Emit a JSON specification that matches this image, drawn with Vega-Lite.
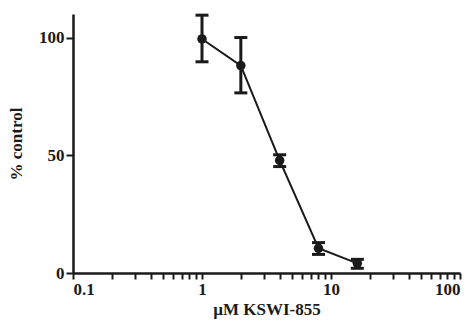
{
  "$schema": "https://vega.github.io/schema/vega-lite/v6.json",
  "width": 387,
  "height": 259,
  "autosize": {"type": "none"},
  "padding": {"left": 73, "top": 14, "right": 16, "bottom": 54},
  "background": "white",
  "config": {"view": {"stroke": null}},
  "data": {"values": [
    {"conc": 1, "pct": 99.4, "lo": 89.7, "hi": 109.5},
    {"conc": 2, "pct": 88.1, "lo": 76.5, "hi": 100.0},
    {"conc": 4, "pct": 47.8, "lo": 45.2, "hi": 50.2},
    {"conc": 8, "pct": 10.5, "lo": 7.9, "hi": 12.9},
    {"conc": 16, "pct": 4.1, "lo": 2.0, "hi": 5.8}
  ]},
  "encoding": {
    "x": {
      "field": "conc", "type": "quantitative",
      "scale": {"type": "log", "domain": [0.1, 100], "nice": false},
      "axis": {
        "title": "µM KSWI-855",
        "grid": true, "gridOpacity": 0,
        "ticks": true,
        "domainColor": "#1a1a1a", "domainWidth": 2.5,
        "labelFont": "Liberation Serif", "labelFontWeight": "bold", "labelFontSize": 17, "labelColor": "#1a1a1a",
        "titleFont": "Liberation Serif", "titleFontWeight": "bold", "titleFontSize": 17, "titleColor": "#1a1a1a",
        "titlePadding": 4,
        "values": [0.1,0.2,0.3,0.4,0.5,0.6,0.7,0.8,0.9,1,2,3,4,5,6,7,8,9,10,20,30,40,50,60,70,80,90,100],
        "labelExpr": "indexof([0.1,1,10,100], datum.value) >= 0 ? format(datum.value, '~g') : ''",
        "labelPadding": 2,
        "tickSize": 6, "tickWidth": 2, "tickColor": "#1a1a1a"
      }
    },
    "y": {
      "field": "pct", "type": "quantitative",
      "scale": {"domain": [0, 110], "nice": false},
      "axis": {
        "title": "% control",
        "grid": true, "gridOpacity": 0,
        "ticks": true,
        "domainColor": "#1a1a1a", "domainWidth": 2.5,
        "labelFont": "Liberation Serif", "labelFontWeight": "bold", "labelFontSize": 17, "labelColor": "#1a1a1a",
        "titleFont": "Liberation Serif", "titleFontWeight": "bold", "titleFontSize": 17, "titleColor": "#1a1a1a",
        "values": [0, 50, 100],
        "tickSize": 7, "tickWidth": 2, "tickColor": "#1a1a1a",
        "labelPadding": 2, "titlePadding": 13
      }
    }
  },
  "layer": [
    {"mark": {"type": "rule", "color": "#1a1a1a", "strokeWidth": 3},
     "encoding": {"y": {"field": "lo", "type": "quantitative"}, "y2": {"field": "hi"}}},
    {"mark": {"type": "tick", "orient": "horizontal", "color": "#1a1a1a", "size": 13, "thickness": 3, "opacity": 1},
     "encoding": {"y": {"field": "lo", "type": "quantitative"}}},
    {"mark": {"type": "tick", "orient": "horizontal", "color": "#1a1a1a", "size": 13, "thickness": 3, "opacity": 1},
     "encoding": {"y": {"field": "hi", "type": "quantitative"}}},
    {"mark": {"type": "line", "color": "#1a1a1a", "strokeWidth": 2}},
    {"mark": {"type": "point", "filled": true, "color": "#1a1a1a", "size": 90, "opacity": 1}}
  ]
}
